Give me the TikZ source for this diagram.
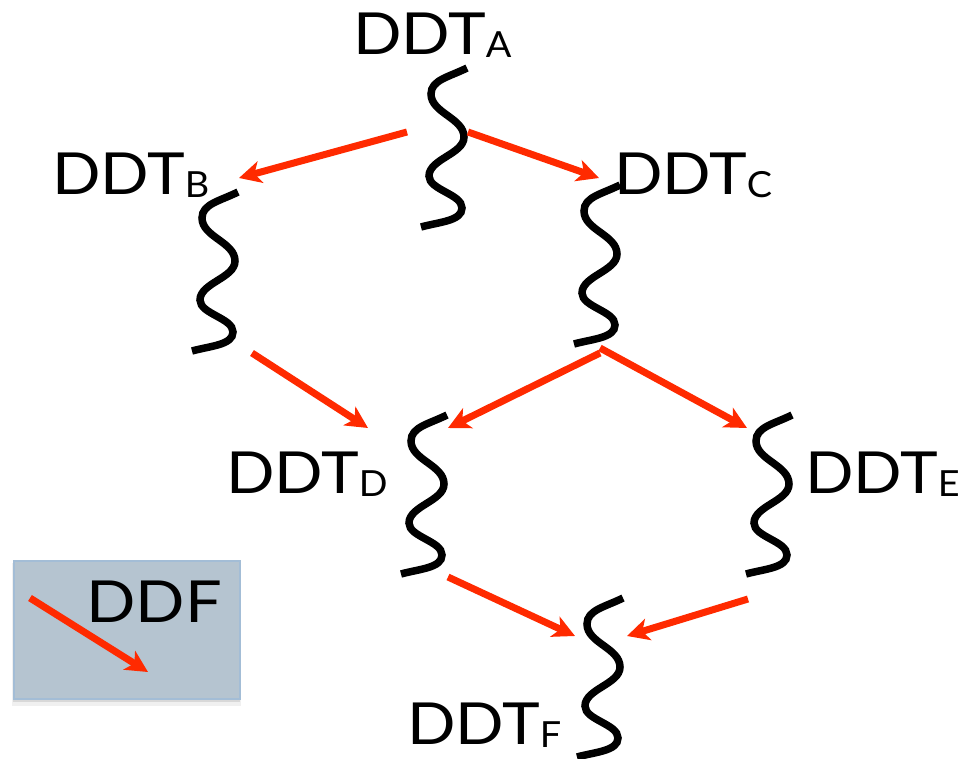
\documentclass[tikz,border=0pt]{standalone}
\usepackage{fontspec}
\setmainfont{Lato}
\usetikzlibrary{arrows.meta}
\definecolor{ddfred}{RGB}{255,42,0}
\definecolor{legendfill}{RGB}{181,196,208}
\definecolor{legendedge}{RGB}{163,189,214}
\newcommand{\ddtmain}{\scalebox{1.1}[1]{DDT}}
\newcommand{\ddtsub}[1]{{\fontsize{36}{36}\selectfont\raisebox{-3pt}{\scalebox{1.05}[1]{#1}}}}
\tikzset{
  strand/.style={line width=7.5pt, draw=black},
  ddf/.style={draw=ddfred, line width=7pt, -{Stealth[length=22pt,width=22pt,inset=6pt]}},
  lbl/.style={inner sep=0pt, anchor=base west, font=\fontsize{58}{60}\selectfont},
  strandpic/.pic={
    \draw[strand] (0,0) .. controls (-18,9) and (-36,12) .. (-36,26)
      .. controls (-36,45) and (-3,50) .. (-3,69)
      .. controls (-3,86) and (-38,91) .. (-38,108)
      .. controls (-38,122) and (-5,126) .. (-5,140)
      .. controls (-5,153) and (-28,154) .. (-46,159);
  }
}
\begin{document}
\begin{tikzpicture}[x=1pt,y=-1pt]
\useasboundingbox (0,0) rectangle (960,759);
% strands
\pic (sA) at (467,68) {strandpic};
\pic (sB) at (238,192) {strandpic};
\pic (sC) at (620,185) {strandpic};
\pic (sD) at (447,415) {strandpic};
\pic (sE) at (792,415) {strandpic};
\pic (sF) at (623,598) {strandpic};
% labels
\node[lbl] (lA) at (353,55) {\ddtmain\ddtsub{A}};
\node[lbl] (lB) at (52,195) {\ddtmain\ddtsub{B}};
\node[lbl] (lC) at (614,195) {\ddtmain\ddtsub{C}};
\node[lbl] (lD) at (226,493) {\ddtmain\ddtsub{D}};
\node[lbl] (lE) at (805,493) {\ddtmain\ddtsub{E}};
\node[lbl] (lF) at (407,744) {\ddtmain\ddtsub{F}};
% arrow end points
\coordinate (ab-s) at (407,132); \coordinate (ab-e) at (239,178);
\coordinate (ac-s) at (468,132); \coordinate (ac-e) at (599,178);
\coordinate (bd-s) at (252,353); \coordinate (bd-e) at (368,428);
\coordinate (cd-s) at (600,353); \coordinate (cd-e) at (448,428);
\coordinate (ce-s) at (600,348); \coordinate (ce-e) at (747,428);
\coordinate (df-s) at (448,577); \coordinate (df-e) at (575,636);
\coordinate (ef-s) at (748,599); \coordinate (ef-e) at (627,636);
\draw[ddf] (ab-s) -- (ab-e);
\draw[ddf] (ac-s) -- (ac-e);
\draw[ddf] (bd-s) -- (bd-e);
\draw[ddf] (cd-s) -- (cd-e);
\draw[ddf] (ce-s) -- (ce-e);
\draw[ddf] (df-s) -- (df-e);
\draw[ddf] (ef-s) -- (ef-e);
% legend
\fill[black,opacity=0.06] (12,563) rectangle (241,706);
\fill[black,opacity=0.10] (13,563) rectangle (240,702);
\node[draw=legendedge, line width=1.5pt, fill=legendfill, minimum width=226pt,
      minimum height=138pt, anchor=north west, inner sep=0pt] (legend) at (13,560) {};
\node[lbl] (ddfl) at (86,622) {\scalebox{1.12}[1]{DDF}};
\coordinate (lg-s) at (30,598); \coordinate (lg-e) at (148,672);
\draw[ddf] (lg-s) -- (lg-e);
\end{tikzpicture}
\end{document}
